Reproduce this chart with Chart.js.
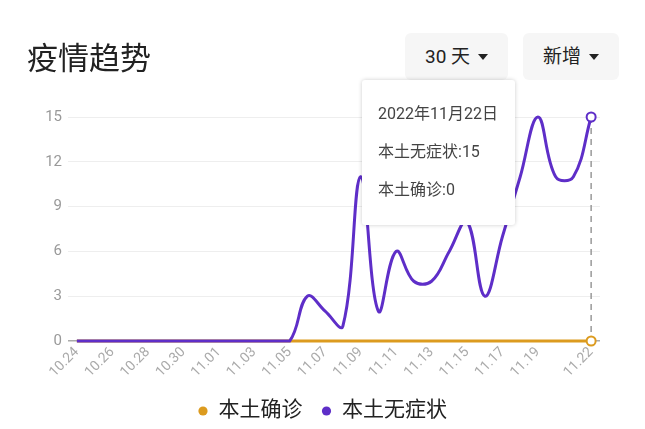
<!DOCTYPE html>
<html>
<head>
<meta charset="utf-8">
<script src="https://cdn.jsdelivr.net/npm/chart.js@4"></script>
<style>
  body { margin: 0; background: #fff; font-family: Roboto, "Noto Sans CJK SC", sans-serif; }
  #wrap { position: relative; width: 645px; height: 429px; overflow: hidden; }
  #title { position: absolute; left: 27px; top: 33px; font-size: 31px; color: #222; font-family: "Noto Sans CJK SC", sans-serif; }
  .btn { position: absolute; top: 33px; height: 47px; background: #f6f6f6; border-radius: 6px;
         font-size: 19px; color: #222; line-height: 47px; text-align: center; }
  .caret { display: inline-block; width: 0; height: 0; border-left: 5px solid transparent;
           border-right: 5px solid transparent; border-top: 6px solid #222; margin-left: 8px; vertical-align: 3px; }
  canvas { position: absolute; left: 0; top: 0; }
  #tip { position: absolute; left: 362px; top: 80px; width: 153px; height: 145px; background: #fff;
         box-shadow: 0 0 4px rgba(0,0,0,.2); border-radius: 3px; font-size: 16px; color: #444; }
  #tip div { position: absolute; left: 16px; height: 20px; line-height: 20px; white-space: nowrap; }
</style>
</head>
<body>
<div id="wrap">
  <canvas id="trendChart" width="645" height="429"></canvas>
  <div id="title">疫情趋势</div>
  <div class="btn" style="left:405px;width:103px">30 天<span class="caret"></span></div>
  <div class="btn" style="left:523px;width:96px">新增<span class="caret"></span></div>
  <div id="tip"></div>
</div>
<script>
// data
const year = 2022;
const labels = ['10.24','10.25','10.26','10.27','10.28','10.29','10.30','10.31',
  '11.01','11.02','11.03','11.04','11.05','11.06','11.07','11.08','11.09','11.10',
  '11.11','11.12','11.13','11.14','11.15','11.16','11.17','11.18','11.19','11.20',
  '11.21','11.22'];
const confirmed = [0,0,0,0,0,0,0,0,0,0,0,0,0,0,0,0,0,0,0,0,0,0,0,0,0,0,0,0,0,0];
const asymptomatic = [0,0,0,0,0,0,0,0,0,0,0,0,0,3,2,1,11,2,6,4,4,6,8,3,7,11,15,11,11,15];
const yTicks = [0, 3, 6, 9, 12, 15];
const activeIdx = 29;

const purple = '#5e2ec8';
const orange = '#dc9b1f';

// tooltip box (fake hover on last day)
const parts = labels[activeIdx].split('.');
const tipLines = [
  `${year}年${parts[0]}月${parts[1]}日`,
  `本土无症状:${asymptomatic[activeIdx]}`,
  `本土确诊:${confirmed[activeIdx]}`
];
const tip = document.getElementById('tip');
tipLines.forEach((t, i) => {
  const d = document.createElement('div');
  d.textContent = t;
  d.style.top = (24 + i * 38) + 'px';
  tip.appendChild(d);
});

// dashed guide line at the hovered day
const guideLine = {
  id: 'guideLine',
  beforeDatasetsDraw(chart) {
    const x = chart.scales.x.getPixelForValue(activeIdx);
    const top = chart.scales.y.getPixelForValue(Math.max(asymptomatic[activeIdx], confirmed[activeIdx]));
    const ctx = chart.ctx;
    ctx.save();
    ctx.strokeStyle = '#999';
    ctx.lineWidth = 1.5;
    ctx.setLineDash([6, 5]);
    ctx.beginPath();
    ctx.moveTo(x, top);
    ctx.lineTo(x, chart.chartArea.bottom);
    ctx.stroke();
    ctx.restore();
  }
};

const hoverRadius = c => c.dataIndex === activeIdx ? 4.5 : 0;

const ctx = document.getElementById('trendChart').getContext('2d');
const trendChart = new Chart(ctx, {
  type: 'line',
  data: {
    labels: labels,
    datasets: [{
      label: '本土无症状',
      data: asymptomatic,
      borderColor: purple,
      backgroundColor: purple,
      borderWidth: 3,
      tension: 0.4,
      pointRadius: hoverRadius,
      pointBackgroundColor: '#fff',
      pointBorderColor: purple,
      pointBorderWidth: 2,
      clip: false
    }, {
      label: '本土确诊',
      data: confirmed,
      borderColor: orange,
      backgroundColor: orange,
      borderWidth: 3,
      tension: 0.4,
      pointRadius: hoverRadius,
      pointBackgroundColor: '#fff',
      pointBorderColor: orange,
      pointBorderWidth: 2,
      clip: false
    }]
  },
  options: {
    responsive: false,
    animation: false,
    events: [],
    layout: { padding: { top: 117, right: 0, left: 0, bottom: -2.5 } },
    plugins: {
      tooltip: { enabled: false },
      legend: {
        position: 'bottom',
        labels: {
          usePointStyle: true,
          pointStyle: 'circle',
          boxWidth: 10,
          boxHeight: 6.5,
          padding: 19,
          color: '#222',
          font: { size: 21, family: 'Roboto, "Noto Sans CJK SC"' },
          generateLabels: chart => chart.data.datasets.map((ds, i) => ({
            text: ds.label,
            fillStyle: ds.borderColor,
            strokeStyle: ds.borderColor,
            lineWidth: 0,
            pointStyle: 'circle',
            fontColor: '#222',
            datasetIndex: i
          })),
          sort: (a, b) => b.datasetIndex - a.datasetIndex
        }
      }
    },
    scales: {
      x: {
        offset: true,
        grid: { display: false, drawTicks: false },
        border: { display: false },
        afterFit: axis => { axis.height = 40.5; },
        ticks: {
          autoSkip: false,
          minRotation: 45,
          maxRotation: 45,
          padding: 3,
          color: '#aaa',
          font: { size: 14, family: 'Roboto' },
          callback: (v, i) => ((i % 2 === 0 && i < 28) || i === 29) ? labels[i] : ''
        }
      },
      y: {
        min: 0,
        max: 15,
        afterBuildTicks: axis => { axis.ticks = yTicks.map(v => ({ value: v })); },
        afterFit: axis => { axis.width = 68; },
        border: { display: false },
        grid: {
          drawTicks: false,
          color: c => c.tick.value === 0 ? '#aaa' : '#eee',
          lineWidth: c => c.tick.value === 0 ? 1.5 : 1
        },
        ticks: {
          padding: 6,
          color: '#999',
          font: { size: 15, family: 'Roboto' }
        }
      },
      // empty right margin so the legend stays centred on the whole canvas
      yRight: {
        position: 'right',
        min: 0,
        max: 15,
        grid: { display: false, drawTicks: false },
        border: { display: false },
        ticks: { display: false },
        afterFit: axis => { axis.width = 45; }
      }
    }
  },
  plugins: [guideLine]
});
</script>
</body>
</html>
